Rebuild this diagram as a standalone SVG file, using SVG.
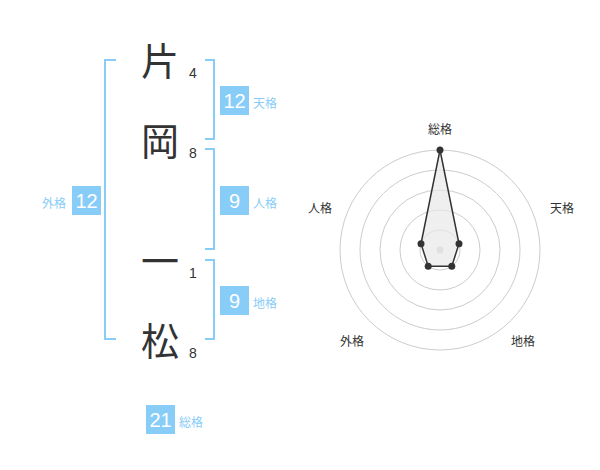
<svg xmlns="http://www.w3.org/2000/svg" width="600" height="470" viewBox="0 0 600 470">
<style>
.bk{fill:none;stroke:#88ccf8;stroke-width:2}
.ch{font-family:"Noto Sans CJK JP","Noto Sans CJK SC",sans-serif;font-size:38px;fill:#333;text-anchor:middle}
.st{font-family:"Liberation Sans",Arial,sans-serif;font-size:14px;fill:#333;text-anchor:middle}
.bx{fill:#88ccf8}
.bn{font-family:"Liberation Sans",Arial,sans-serif;font-size:20px;fill:#fff;text-anchor:middle}
.lb{font-family:"Liberation Sans","Noto Sans CJK JP",sans-serif;font-size:12px;fill:#88ccf8}
.ring{fill:none;stroke:#ccc;stroke-width:1}
.rl{font-family:"Liberation Sans","Noto Sans CJK JP",sans-serif;font-size:12px;fill:#333;text-anchor:middle}
.pt{fill:#333}
</style>
<rect width="600" height="470" fill="#fff"/>
<g id="connectors">
<path class="bk" d="M116,60 H105 V339 H116"/>
<path class="bk" d="M205,60 H214 V139 H205"/>
<path class="bk" d="M205,149 H214 V249 H205"/>
<path class="bk" d="M205,260 H214 V339 H205"/>
</g>
<g id="char1"><text class="ch" x="160" y="75">片</text><text class="st" x="193" y="78">4</text></g>
<g id="char2"><text class="ch" x="160" y="155">岡</text><text class="st" x="193" y="158">8</text></g>
<g id="char3"><text class="ch" x="160" y="275">一</text><text class="st" x="193" y="278">1</text></g>
<g id="char4"><text class="ch" x="160" y="355">松</text><text class="st" x="193" y="358">8</text></g>
<g id="tenkaku"><rect class="bx" x="220" y="86" width="29" height="29"/><text class="bn" x="234.5" y="107.5">12</text><text class="lb" x="253" y="108">天格</text></g>
<g id="jinkaku"><rect class="bx" x="220" y="186" width="29" height="29"/><text class="bn" x="234.5" y="207.5">9</text><text class="lb" x="253" y="208">人格</text></g>
<g id="chikaku"><rect class="bx" x="220" y="286" width="29" height="29"/><text class="bn" x="234.5" y="307.5">9</text><text class="lb" x="253" y="308">地格</text></g>
<g id="gaikaku"><rect class="bx" x="72" y="186" width="29" height="29"/><text class="bn" x="86.5" y="207.5">12</text><text class="lb" x="66" y="208" text-anchor="end">外格</text></g>
<g id="soukaku"><rect class="bx" x="146" y="405" width="29" height="29"/><text class="bn" x="160.5" y="426.5">21</text><text class="lb" x="179" y="427">総格</text></g>
<g id="radar">
<circle class="ring" cx="440" cy="250" r="20"/>
<circle class="ring" cx="440" cy="250" r="40"/>
<circle class="ring" cx="440" cy="250" r="60"/>
<circle class="ring" cx="440" cy="250" r="80"/>
<circle class="ring" cx="440" cy="250" r="100"/>
<circle cx="440" cy="250" r="3.5" fill="#ccc"/>
<polygon points="440,150 459,243.8 451.8,266.2 428.2,266.2 421,243.8" fill="#e8e8e8" fill-opacity="0.7" stroke="#333" stroke-width="1.5"/>
<circle class="pt" cx="440" cy="150" r="3.5"/>
<circle class="pt" cx="459" cy="243.8" r="3.5"/>
<circle class="pt" cx="451.8" cy="266.2" r="3.5"/>
<circle class="pt" cx="428.2" cy="266.2" r="3.5"/>
<circle class="pt" cx="421" cy="243.8" r="3.5"/>
<text class="rl" x="440" y="134">総格</text>
<text class="rl" x="562" y="213">天格</text>
<text class="rl" x="320" y="213">人格</text>
<text class="rl" x="352" y="346">外格</text>
<text class="rl" x="523" y="346">地格</text>
</g>
</svg>
